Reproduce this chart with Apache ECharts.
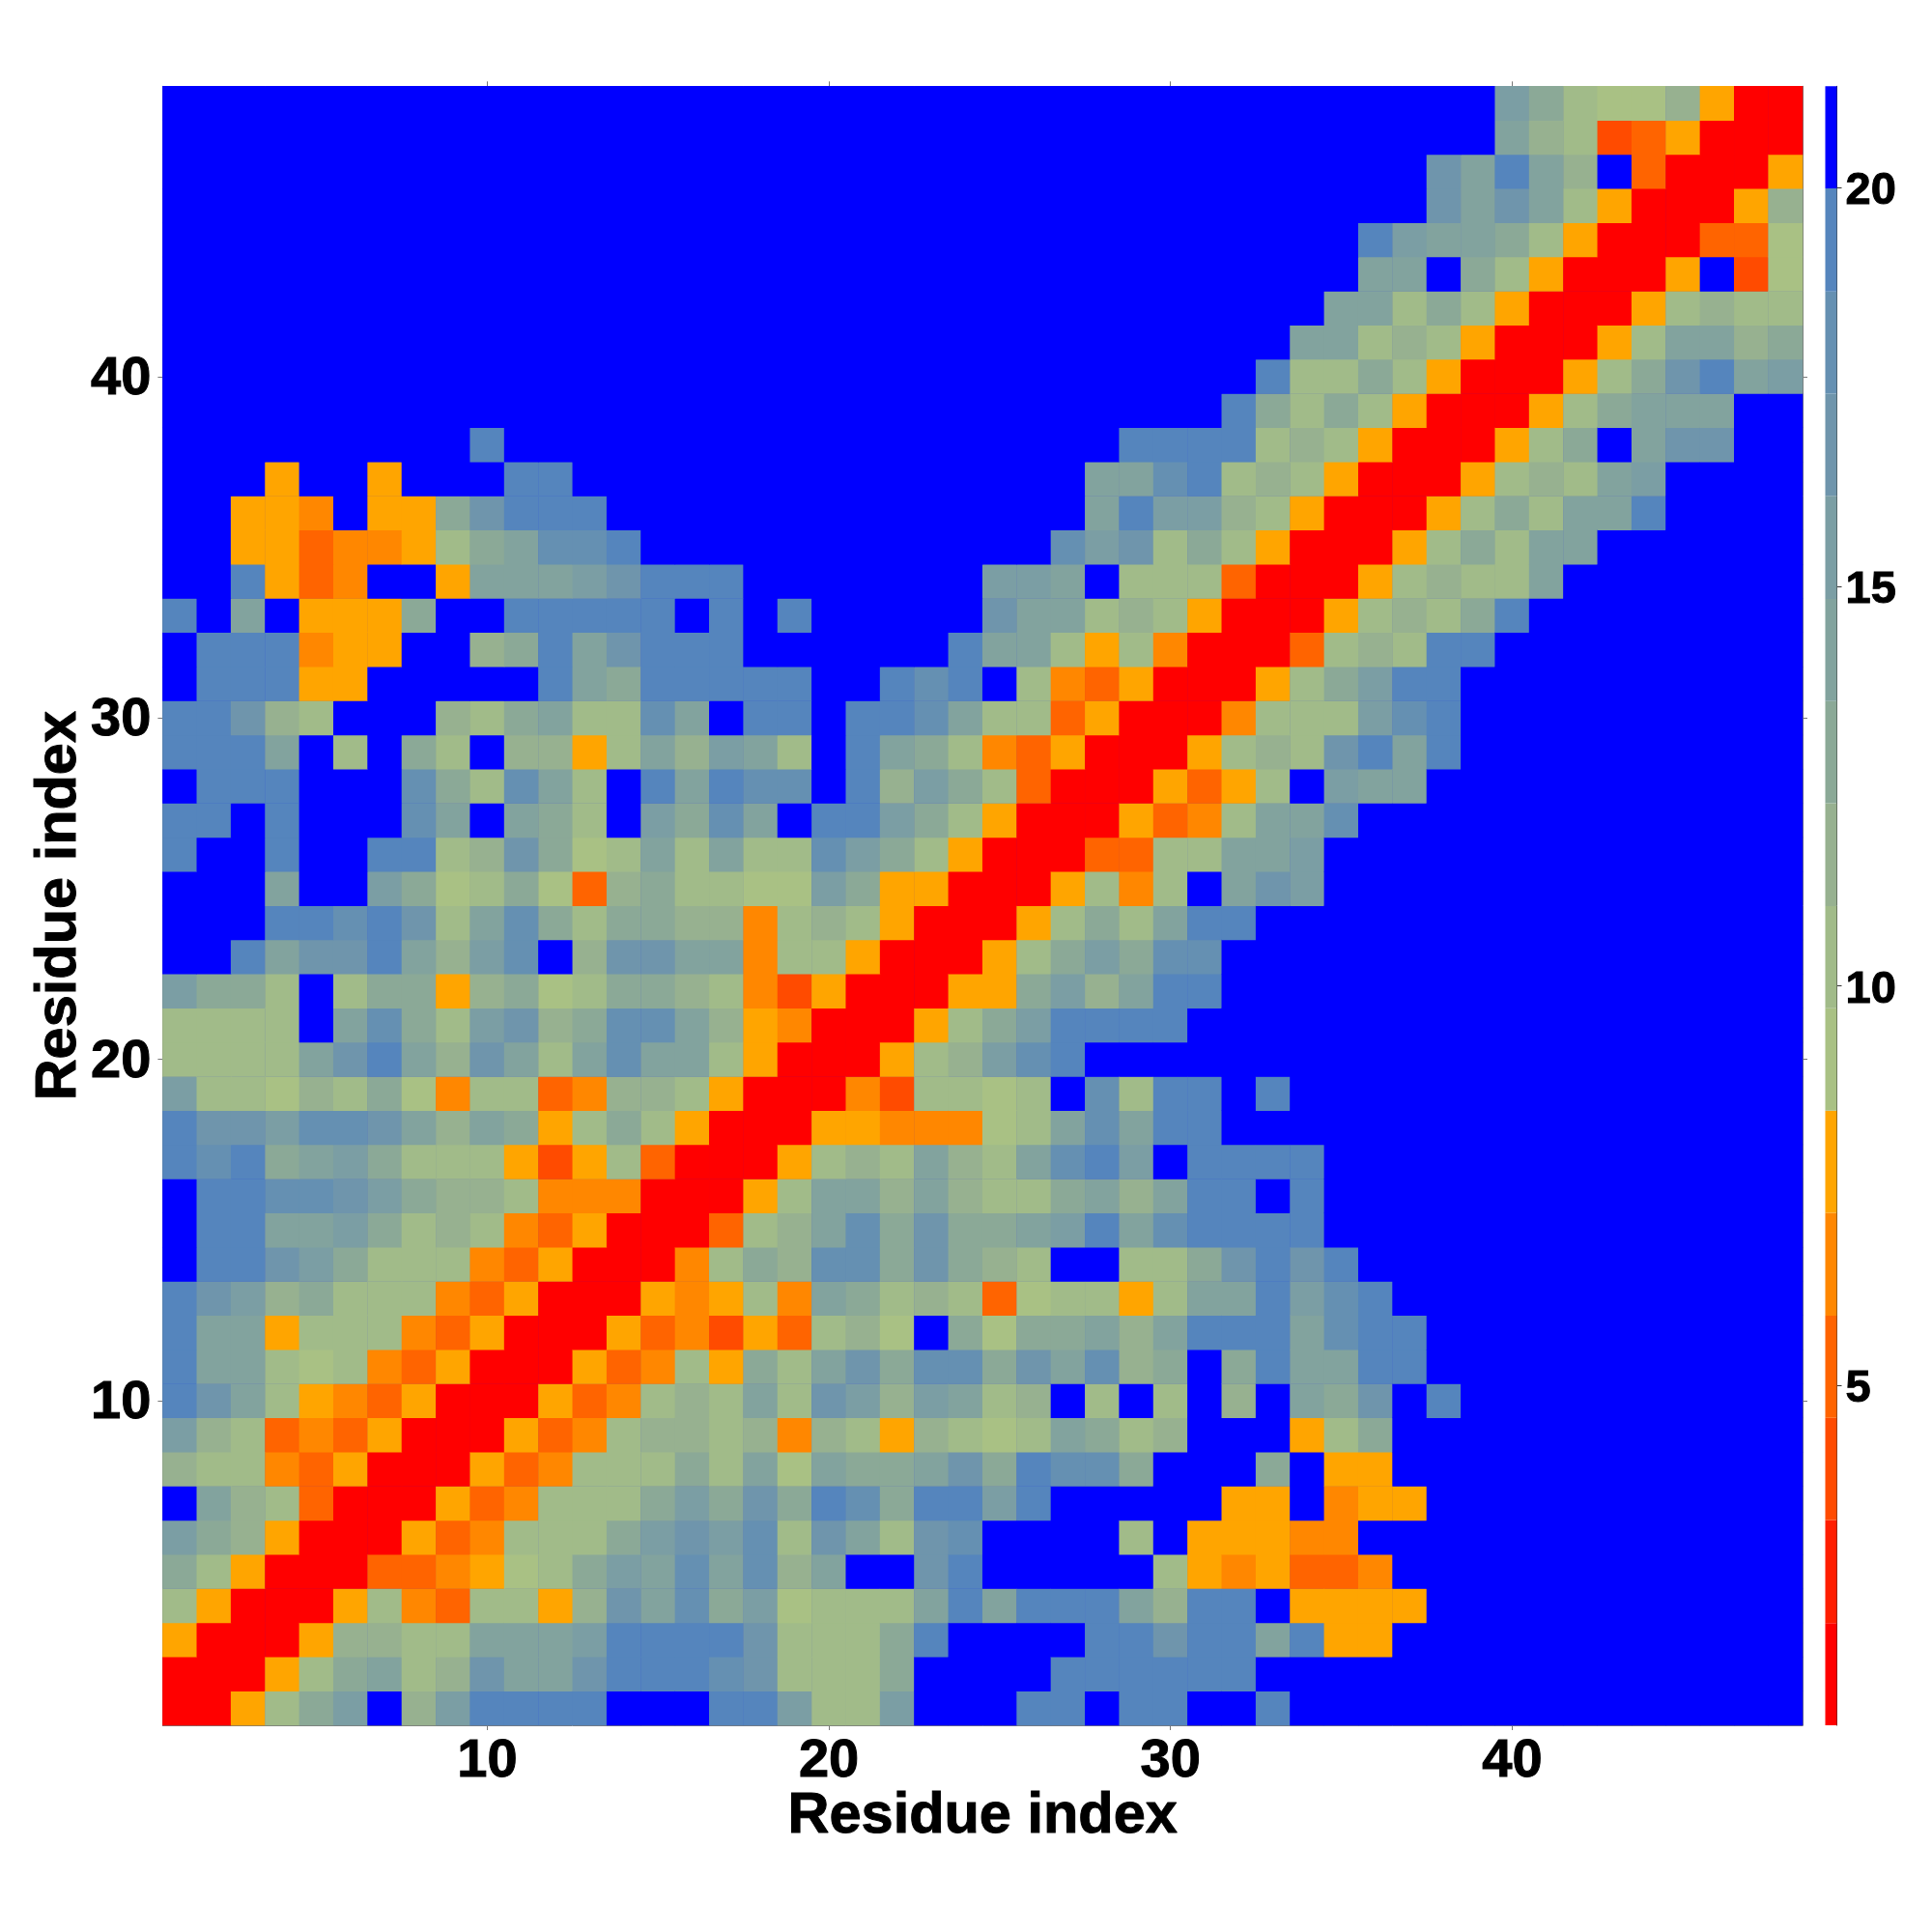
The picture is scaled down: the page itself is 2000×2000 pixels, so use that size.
<!DOCTYPE html>
<html>
<head>
<meta charset="utf-8">
<style>html,body{margin:0;padding:0;background:#fff}#c{width:2000px;height:2000px}</style>
<script src="https://cdn.jsdelivr.net/npm/echarts@6/dist/echarts.min.js"></script>
</head>
<body>
<div id="c"></div>
<script>
const residues = Array.from({length: 48}, (_, i) => String(i + 1));
const axisTitle = 'Residue index';
const residueTicks = [10, 20, 30, 40];
const colorbarTicks = [5, 10, 15, 20];
const bandEdges = [0.74, 2.02, 3.31, 4.59, 5.87, 7.16, 8.44, 9.72, 11.0, 12.29, 13.57, 14.85, 16.14, 17.42, 18.7, 19.99, 21.27];
const bandColors = ['#ff0000', '#ff1e00', '#ff4b00', '#ff6400', '#ff8700', '#ffa500',
  '#a9c184', '#a1bb89', '#97b190', '#8ba997', '#82a39e', '#7b9ea4', '#6f95ac', '#6590b2', '#5585bd', '#0000ff'];
// Distance band of each residue pair: row n holds residues 1..n against residue n.
const pairBands = [
[0],
[0,0],
[5,0,0],
[7,5,0,0],
[9,7,5,0,0],
[11,9,8,5,0,0],
[15,10,8,7,3,0,0],
[8,7,7,4,3,5,0,0],
[11,8,7,3,4,3,5,0,0],
[14,12,10,7,5,4,3,5,0,0],
[14,10,10,7,6,7,4,3,5,0,0],
[14,10,10,5,7,7,7,4,3,5,0,0],
[14,12,11,8,9,7,7,7,4,3,5,0,0],
[15,14,14,12,11,9,7,7,7,4,3,5,0,0],
[15,14,14,10,10,11,9,7,8,7,4,3,5,0,0],
[15,14,14,13,13,12,11,9,8,8,7,4,4,4,0,0],
[14,13,14,9,10,11,9,7,7,7,5,2,5,7,3,0,0],
[14,12,12,11,13,13,12,10,8,10,9,5,7,9,7,5,0,0],
[11,7,7,6,8,7,9,6,4,7,7,3,4,8,8,7,5,0,0],
[7,7,7,7,10,12,14,10,8,12,10,7,10,13,10,10,7,5,0,0],
[7,7,7,7,15,10,13,9,7,11,12,8,9,13,13,10,8,5,4,0,0],
[11,9,9,7,15,7,9,9,5,8,9,6,7,9,9,8,7,4,2,5,0,0],
[15,15,14,10,12,12,14,10,8,11,13,15,8,12,12,10,10,4,7,7,5,0,0],
[15,15,15,14,14,13,14,12,7,10,13,9,7,9,9,8,8,4,7,8,7,5,0,0],
[15,15,15,10,15,15,11,9,6,7,9,6,3,8,9,7,7,6,6,11,9,5,5,0,0],
[14,15,15,14,15,15,14,14,7,8,12,9,6,7,10,7,10,7,7,13,11,9,7,5,0,0],
[14,14,15,14,15,15,15,13,10,15,10,9,7,15,11,9,13,10,15,14,14,11,9,7,5,0,0],
[15,14,14,14,15,15,15,13,9,7,13,10,7,15,14,10,14,13,13,15,14,8,11,9,7,3,0,0],
[14,14,14,10,15,7,15,9,7,15,8,8,5,7,10,8,11,10,7,15,14,10,9,7,4,3,5,0,0],
[14,14,12,8,7,15,15,15,8,7,9,10,7,7,13,10,15,14,14,15,14,14,13,10,7,7,3,5,0,0],
[15,14,14,14,5,5,15,15,15,15,15,14,10,9,14,14,14,14,14,15,15,14,13,14,15,7,4,3,5,0,0],
[15,14,14,14,4,5,5,15,15,8,9,14,10,12,14,14,14,15,15,15,15,15,15,14,10,10,7,5,7,4,0,0],
[14,15,10,15,5,5,5,9,15,15,14,14,14,14,14,15,14,15,14,15,15,15,15,15,12,10,10,7,8,7,5,0,0],
[15,15,14,5,3,4,15,15,5,10,10,10,11,12,14,14,14,15,15,15,15,15,15,15,11,11,10,15,7,7,7,3,0,0],
[15,15,5,5,3,4,4,5,7,9,10,13,13,14,15,15,15,15,15,15,15,15,15,15,15,15,13,11,12,7,9,7,5,0,0],
[15,15,5,5,4,15,5,5,9,12,14,14,14,15,15,15,15,15,15,15,15,15,15,15,15,15,15,10,14,11,11,8,7,5,0,0],
[15,15,15,5,15,15,5,15,15,15,14,14,15,15,15,15,15,15,15,15,15,15,15,15,15,15,15,10,10,13,14,7,8,7,5,0,0],
[15,15,15,15,15,15,15,15,15,14,15,15,15,15,15,15,15,15,15,15,15,15,15,15,15,15,15,15,14,14,14,14,7,8,7,5,0,0],
[15,15,15,15,15,15,15,15,15,15,15,15,15,15,15,15,15,15,15,15,15,15,15,15,15,15,15,15,15,15,15,14,9,7,9,7,5,0,0],
[15,15,15,15,15,15,15,15,15,15,15,15,15,15,15,15,15,15,15,15,15,15,15,15,15,15,15,15,15,15,15,15,14,7,7,9,7,5,0,0],
[15,15,15,15,15,15,15,15,15,15,15,15,15,15,15,15,15,15,15,15,15,15,15,15,15,15,15,15,15,15,15,15,15,10,10,7,8,7,5,0,0],
[15,15,15,15,15,15,15,15,15,15,15,15,15,15,15,15,15,15,15,15,15,15,15,15,15,15,15,15,15,15,15,15,15,15,10,10,7,9,7,5,0,0],
[15,15,15,15,15,15,15,15,15,15,15,15,15,15,15,15,15,15,15,15,15,15,15,15,15,15,15,15,15,15,15,15,15,15,15,10,10,15,9,7,5,0,0],
[15,15,15,15,15,15,15,15,15,15,15,15,15,15,15,15,15,15,15,15,15,15,15,15,15,15,15,15,15,15,15,15,15,15,15,14,11,10,10,9,7,5,0,0],
[15,15,15,15,15,15,15,15,15,15,15,15,15,15,15,15,15,15,15,15,15,15,15,15,15,15,15,15,15,15,15,15,15,15,15,15,15,12,10,12,10,7,5,0,0],
[15,15,15,15,15,15,15,15,15,15,15,15,15,15,15,15,15,15,15,15,15,15,15,15,15,15,15,15,15,15,15,15,15,15,15,15,15,12,10,14,10,8,15,3,0,0],
[15,15,15,15,15,15,15,15,15,15,15,15,15,15,15,15,15,15,15,15,15,15,15,15,15,15,15,15,15,15,15,15,15,15,15,15,15,15,15,10,8,7,2,3,5,0,0],
[15,15,15,15,15,15,15,15,15,15,15,15,15,15,15,15,15,15,15,15,15,15,15,15,15,15,15,15,15,15,15,15,15,15,15,15,15,15,15,11,9,7,6,6,8,5,0,0]
];

const bandValue = b => (bandEdges[b] + bandEdges[b + 1]) / 2;
const cells = [];
pairBands.forEach((row, r) => row.forEach((b, c) => {
  cells.push([c, r, bandValue(b)]);
  if (c !== r) cells.push([r, c, bandValue(b)]);
}));
const pieces = bandColors.map((color, i) => ({gte: bandEdges[i], lt: bandEdges[i + 1], color}));
const bars = bandColors.map((_, i) => [0, bandEdges[i], bandEdges[i + 1]]);

const font = 'Liberation Sans';
const heavy = {textBorderColor: '#000', textBorderWidth: 1};
const isTick = (i, v) => residueTicks.includes(Number(v));
const tickStyle = {show: true, interval: isTick, alignWithLabel: true, length: 5, lineStyle: {color: '#777', width: 1}};
const lineStyle = {show: true, lineStyle: {color: '#777', width: 1}};
const digits = {fontFamily: font, fontWeight: 'bold', fontSize: 56, color: '#000', ...heavy};
const tickLabel = {show: true, interval: isTick, ...digits};
const nameStyle = {fontFamily: font, fontWeight: 'bold', fontSize: 59.5, color: '#000', ...heavy};
const wrap = v => `{t|${v}}`;

const chart = echarts.init(document.getElementById('c'), null, {renderer: 'canvas', width: 2000, height: 2000});
chart.setOption({
  animation: false,
  backgroundColor: '#fff',
  grid: [
    {left: 168.4, top: 89.3, width: 1697.6, height: 1696.7, show: true, backgroundColor: '#0000ff', borderWidth: 0},
    {left: 1889.5, top: 89.3, width: 12, height: 1696.7}
  ],
  xAxis: [
    {type: 'category', data: residues, gridIndex: 0, position: 'bottom', axisLine: lineStyle, axisTick: tickStyle,
     axisLabel: {...tickLabel, margin: 10}, splitLine: {show: false},
     name: axisTitle, nameLocation: 'middle', nameGap: 64.5, nameMoveOverlap: false, nameTextStyle: nameStyle},
    {type: 'category', data: residues, gridIndex: 0, position: 'top', axisLine: lineStyle, axisTick: tickStyle,
     axisLabel: {show: false}, splitLine: {show: false}},
    {type: 'category', data: ['scale'], gridIndex: 1, axisLine: {show: false}, axisTick: {show: false}, axisLabel: {show: false}}
  ],
  yAxis: [
    {type: 'category', data: residues, gridIndex: 0, position: 'left', axisLine: lineStyle, axisTick: tickStyle,
     axisLabel: {...tickLabel, margin: 12, formatter: wrap, rich: {t: {...digits, padding: [5, 0, 0, 0]}}}, splitLine: {show: false},
     name: axisTitle, nameLocation: 'middle', nameGap: 77, nameMoveOverlap: false, nameRotate: 90, nameTextStyle: nameStyle},
    {type: 'category', data: residues, gridIndex: 0, position: 'right', axisLine: lineStyle, axisTick: tickStyle,
     axisLabel: {show: false}, splitLine: {show: false}},
    {type: 'value', gridIndex: 1, position: 'right', min: bandEdges[0], max: bandEdges[16],
     axisLine: {show: true, lineStyle: {color: '#333', width: 1}},
     axisTick: {show: true, length: 5, customValues: colorbarTicks, lineStyle: {color: '#333', width: 1}},
     axisLabel: {show: true, customValues: colorbarTicks, margin: 9, formatter: wrap,
       rich: {t: {...digits, fontSize: 47, padding: [8, 0, 0, 0]}}},
     splitLine: {show: false}}
  ],
  visualMap: {show: false, type: 'piecewise', seriesIndex: 0, dimension: 2, pieces},
  series: [
    {type: 'heatmap', xAxisIndex: 0, yAxisIndex: 0, data: cells, progressive: 0,
     itemStyle: {borderWidth: 0}, emphasis: {disabled: true}},
    {type: 'custom', xAxisIndex: 2, yAxisIndex: 2, data: bars, encode: {x: 0, y: [1, 2]}, clip: false,
     renderItem(params, api) {
       const lo = api.coord([0, api.value(1)]);
       const hi = api.coord([0, api.value(2)]);
       const g = params.coordSys;
       return {type: 'rect', shape: {x: g.x, y: hi[1], width: g.width, height: lo[1] - hi[1]},
               style: {fill: bandColors[params.dataIndex]}};
     }}
  ]
});
</script>
</body>
</html>
